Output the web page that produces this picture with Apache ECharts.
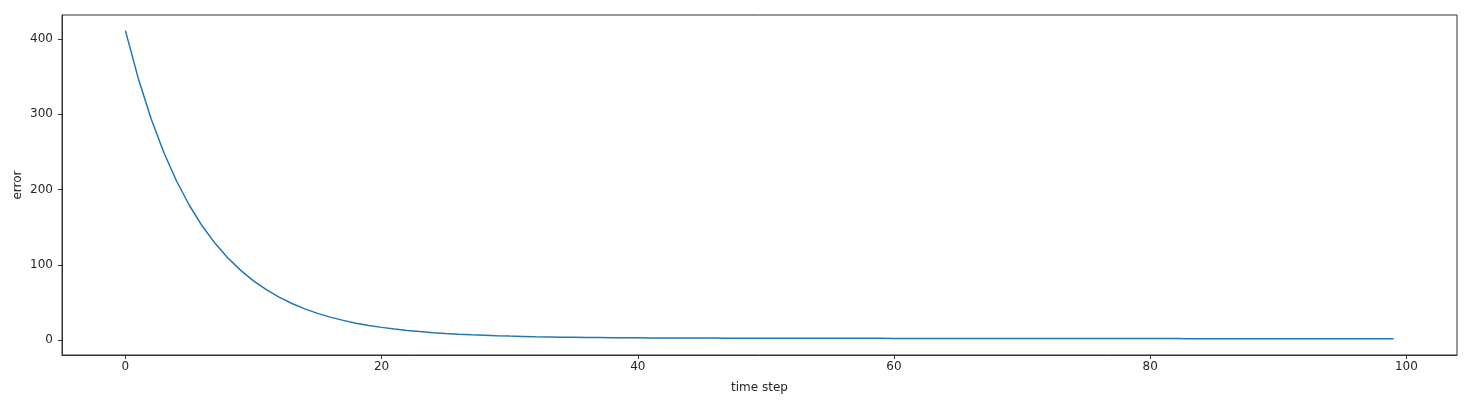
<!DOCTYPE html>
<html>
<head>
<meta charset="utf-8">
<script src="https://cdn.jsdelivr.net/npm/echarts@6/dist/echarts.min.js"></script>
<style>
  html, body { margin: 0; padding: 0; background: #fff; }
  #chartLineBox { width: 1482px; height: 408px; }
</style>
</head>
<body>
<div id="chartLineBox"></div>
<script>
  // 数据：每个 time step 的 error
  var errorValues = [
    411.2, 348.0, 294.5, 249.3, 211.1, 178.9, 151.6, 128.6, 109.1, 92.7,
    78.8, 67.0, 57.1, 48.7, 41.6, 35.6, 30.6, 26.3, 22.6, 19.5,
    17.0, 14.8, 12.9, 11.4, 10.0, 8.9, 7.9, 7.1, 6.5, 5.9,
    5.4, 5.0, 4.6, 4.3, 4.0, 3.8, 3.6, 3.5, 3.3, 3.2,
    3.1, 3.0, 2.96, 2.89, 2.83, 2.78, 2.74, 2.69, 2.66, 2.62,
    2.59, 2.57, 2.53, 2.51, 2.48, 2.47, 2.45, 2.43, 2.41, 2.39,
    2.38, 2.35, 2.33, 2.32, 2.30, 2.29, 2.28, 2.26, 2.25, 2.23,
    2.22, 2.21, 2.19, 2.18, 2.16, 2.15, 2.14, 2.12, 2.11, 2.09,
    2.08, 2.07, 2.05, 2.04, 2.02, 2.01, 2.00, 1.98, 1.97, 1.95,
    1.94, 1.93, 1.91, 1.90, 1.88, 1.87, 1.86, 1.84, 1.83, 1.81
  ];
  var xTicks = [0, 20, 40, 60, 80, 100];
  var yTicks = [0, 100, 200, 300, 400];

  var seriesData = errorValues.map(function (v, i) { return [i, v]; });

  var chartLine = echarts.init(document.getElementById('chartLineBox'));

  var textColor = '#262626';
  var labelFont = 'DejaVu Sans';

  var option = {
    animation: false,
    grid: {
      left: 62, right: 25, top: 15, bottom: 53,
      show: true,
      borderColor: '#333',
      borderWidth: 1
    },
    xAxis: {
      type: 'value',
      min: -4.95,
      max: 103.95,
      name: 'time step',
      nameLocation: 'middle',
      nameGap: 27,
      nameTextStyle: { color: textColor, fontSize: 12, fontFamily: labelFont },
      axisLine: { onZero: false, lineStyle: { color: '#333', width: 1 } },
      axisTick: { show: true, length: 4, customValues: xTicks, lineStyle: { color: '#333' } },
      axisLabel: { customValues: xTicks, margin: 6, color: textColor, fontSize: 12, fontFamily: labelFont },
      splitLine: { show: false }
    },
    yAxis: {
      type: 'value',
      min: -19.7,
      max: 431.9,
      name: 'error',
      nameLocation: 'middle',
      nameGap: 38,
      nameMoveOverlap: false,
      nameTextStyle: { color: textColor, fontSize: 12, fontFamily: labelFont },
      axisLine: { show: true, onZero: false, lineStyle: { color: '#333', width: 1 } },
      axisTick: { show: true, length: 4, customValues: yTicks, lineStyle: { color: '#333' } },
      axisLabel: { customValues: yTicks, margin: 9, color: textColor, fontSize: 12, fontFamily: labelFont },
      splitLine: { show: false }
    },
    series: [
      {
        name: 'error',
        type: 'line',
        data: seriesData,
        showSymbol: false,
        lineStyle: { color: '#1f77b4', width: 1.5 }
      }
    ]
  };

  chartLine.setOption(option);
  window.onresize = chartLine.resize;
</script>
</body>
</html>
